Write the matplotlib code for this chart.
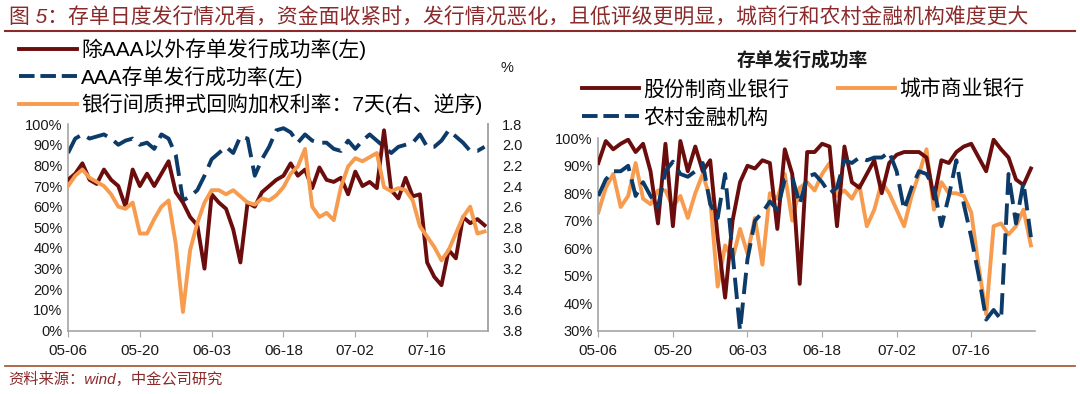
import matplotlib
matplotlib.use("Agg")
import matplotlib.pyplot as plt
import numpy as np
from matplotlib.lines import Line2D

plt.rcParams['font.family'] = ['Liberation Sans', 'Noto Sans CJK SC', 'DejaVu Sans']

# ---------------- data ----------------
tick_labels = ["05-06", "05-20", "06-03", "06-18", "07-02", "07-16"]

# Left chart (index = business day from 05-06 to 07-26)
non_aaa = [73, 76, 81, 73, 71, 78, 73, 70, 60, 78, 70, 76, 70, 76, 82, 67, 62, 55, 51, 30,
           66, 62, 59, 49, 33, 62, 60, 67, 70, 73, 75, 81, 75, 78, 69, 79, 73, 72, 74, 66,
           77, 70, 72, 69, 97, 68, 64, 74, 65, 66, 33, 26, 22, 39, 35, 55, 52, 54, 51]
aaa = [86, 93, 95, 93, 94, 95, 93, 90, 92, 93, 90, 91, 88, 95, 93, 85, 63, 65, 68, 75,
       83, 86, 89, 86, 94, 93, 75, 83, 89, 97, 98, 96, 91, 95, 92, 91, 91, 88, 87, 92,
       88, 92, 95, 92, 89, 86, 89, 90, 91, 95, 89, 89, 92, 97, 94, 91, 87, 87, 89]
repo7d = [2.40, 2.30, 2.24, 2.32, 2.36, 2.40, 2.48, 2.60, 2.62, 2.56, 2.86, 2.86, 2.72, 2.60,
          2.54, 2.96, 3.62, 3.02, 2.76, 2.56, 2.44, 2.44, 2.48, 2.44, 2.50, 2.56, 2.58, 2.52,
          2.54, 2.49, 2.41, 2.28, 2.21, 2.04, 2.60, 2.70, 2.66, 2.73, 2.41, 2.21, 2.13, 2.16,
          2.12, 2.08, 2.41, 2.45, 2.42, 2.44, 2.54, 2.79, 2.89, 2.99, 3.12, 3.02, 2.86, 2.70,
          2.60, 2.86, 2.84]

# Right chart
joint_stock = [91, 99, 96, 98, 99.5, 95, 98, 88, 69, 98, 68, 99, 88, 97, 88, 92, 64, 42, 70, 84,
               90, 89, 92, 91, 67, 96, 87, 47, 95, 95, 98, 97, 68, 97, 84, 82, 87, 92, 80, 91,
               94, 95, 95, 95, 93, 78, 92, 91, 95, 97, 98, 93, 88, 99.5, 96, 93, 85, 83, 89]
city_bank = [73, 82, 87, 75, 79, 91, 78, 76, 81, 81, 75, 79, 71, 80, 87, 78, 46, 61, 56, 67,
             58, 71, 54, 80, 78, 87, 70, 82, 84, 81, 87, 91, 79, 81, 78, 83, 68, 74, 84, 80,
             74, 68, 79, 87, 96, 74, 84, 80, 80, 79, 73, 53, 36, 68, 69, 65, 68, 74, 61]
rural = [79, 85, 88, 88, 90, 79, 84, 79, 75, 88, 91.5, 87, 86, 88, 91, 76, 71, 87, 58, 30,
         56, 70, 73, 77, 74, 85, 86, 76, 86, 87, 84, 80, 82, 92, 91, 93, 92, 93, 93, 95,
         88, 74, 82, 88, 87, 82, 68, 79, 92, 76, 64, 50, 34, 37.5, 34, 87, 69, 84, 64]

# ---------------- style ----------------
MAROON = '#6B0D0D'
NAVY = '#0D3B69'
ORANGE = '#F79B4F'
GRAY = '#A6A6A6'
TITLE_RED = '#8B2A2A'
DASH = (0, (5.5, 2.2))
LW = 2.8
LEG_FS = 15

fig = plt.figure(figsize=(10.8, 3.94), dpi=100)

x = np.arange(len(non_aaa))
tick_pos = np.arange(len(tick_labels)) * 10


def style_axes(ax, right=False):
    ax.spines['top'].set_visible(False)
    ax.spines['right'].set_visible(right)
    for s in ['left', 'bottom', 'right']:
        ax.spines[s].set_color(GRAY)
        ax.spines[s].set_linewidth(1.2)
    ax.set_xticks(tick_pos)
    ax.set_xticklabels(tick_labels, fontsize=11, color='#1a1a1a')
    ax.tick_params(axis='x', length=4, color=GRAY, direction='out', pad=6)
    ax.tick_params(axis='y', length=0, labelsize=10.5, labelcolor='#1a1a1a', pad=4)
    ax.set_xlim(0, len(non_aaa) - 0.5)


# ---------------- left chart ----------------
axL = fig.add_axes([0.063, 0.161, 0.389, 0.524])
axL.plot(x, non_aaa, color=MAROON, lw=LW, solid_joinstyle='round', zorder=3)
axL.plot(x, aaa, color=NAVY, lw=LW, linestyle=DASH, zorder=2)
axL.set_ylim(0, 100)
axL.set_yticks(np.arange(0, 101, 10))
axL.set_yticklabels([f"{v}%" for v in range(0, 101, 10)])
style_axes(axL, right=True)

axR2 = axL.twinx()
axR2.plot(x, repo7d, color=ORANGE, lw=LW, solid_joinstyle='round', zorder=1)
axR2.set_ylim(3.8, 1.8)
axR2.set_yticks(np.arange(1.8, 3.81, 0.2))
axR2.set_yticklabels([f"{v:.1f}" for v in np.arange(1.8, 3.81, 0.2)])
for s in ['top', 'left', 'bottom']:
    axR2.spines[s].set_visible(False)
axR2.spines['right'].set_color(GRAY)
axR2.spines['right'].set_linewidth(1.2)
axR2.tick_params(axis='y', length=0, labelsize=10.5, labelcolor='#1a1a1a', pad=10)

fig.text(0.463, 0.827, '%', fontsize=10.5, color='#1a1a1a', ha='left', va='center')

handlesL = [Line2D([], [], color=MAROON, lw=LW),
            Line2D([], [], color=NAVY, lw=LW, linestyle=(0, (4, 1.5))),
            Line2D([], [], color=ORANGE, lw=LW)]
labelsL = ['除AAA以外存单发行成功率(左)', 'AAA存单发行成功率(左)', '银行间质押式回购加权利率：7天(右、逆序)']
fig.legend(handlesL, labelsL, loc='upper left', bbox_to_anchor=(0.018, 0.902), frameon=False,
           fontsize=LEG_FS, handlelength=2.75, handletextpad=0.2, labelspacing=0.27,
           borderaxespad=0, borderpad=0)

# ---------------- right chart ----------------
axB = fig.add_axes([0.554, 0.161, 0.404, 0.488])
axB.plot(x, joint_stock, color=MAROON, lw=LW, solid_joinstyle='round', zorder=3)
axB.plot(x, city_bank, color=ORANGE, lw=LW, solid_joinstyle='round', zorder=2)
axB.plot(x, rural, color=NAVY, lw=LW, linestyle=DASH, zorder=4)
axB.set_ylim(30, 100)
axB.set_yticks(np.arange(30, 101, 10))
axB.set_yticklabels([f"{v}%" for v in range(30, 101, 10)])
style_axes(axB, right=False)

fig.text(0.743, 0.847, '存单发行成功率', fontsize=13.5, fontweight='bold', ha='center', va='center',
         color='#1a1a1a')
handlesR = [Line2D([], [], color=MAROON, lw=LW),
            Line2D([], [], color=NAVY, lw=LW, linestyle=(0, (4, 1.5))),
            Line2D([], [], color=ORANGE, lw=LW)]
labelsR = ['股份制商业银行', '农村金融机构', '城市商业银行']
fig.legend(handlesR, labelsR, loc='upper left', bbox_to_anchor=(0.539, 0.798), frameon=False,
           ncol=2, fontsize=LEG_FS, handlelength=2.75, handletextpad=0.2, labelspacing=0.39,
           columnspacing=2.3, borderaxespad=0, borderpad=0)

# ---------------- title and footer ----------------
fig.text(0.008, 0.955, '图 5：存单日度发行情况看，资金面收紧时，发行情况恶化，且低评级更明显，城商行和农村金融机构难度更大',
         fontsize=15, color=TITLE_RED, ha='left', va='center', style='italic')
fig.add_artist(Line2D([0.005, 0.995], [0.922, 0.922], color=TITLE_RED, lw=1.5,
                      transform=fig.transFigure))
fig.add_artist(Line2D([0.005, 0.995], [0.071, 0.071], color='#A0522D', lw=1.2,
                      transform=fig.transFigure))
fig.text(0.008, 0.036, '资料来源：wind，中金公司研究', fontsize=11, color=TITLE_RED,
         ha='left', va='center', style='italic')

fig.savefig('out.png', dpi=100)
